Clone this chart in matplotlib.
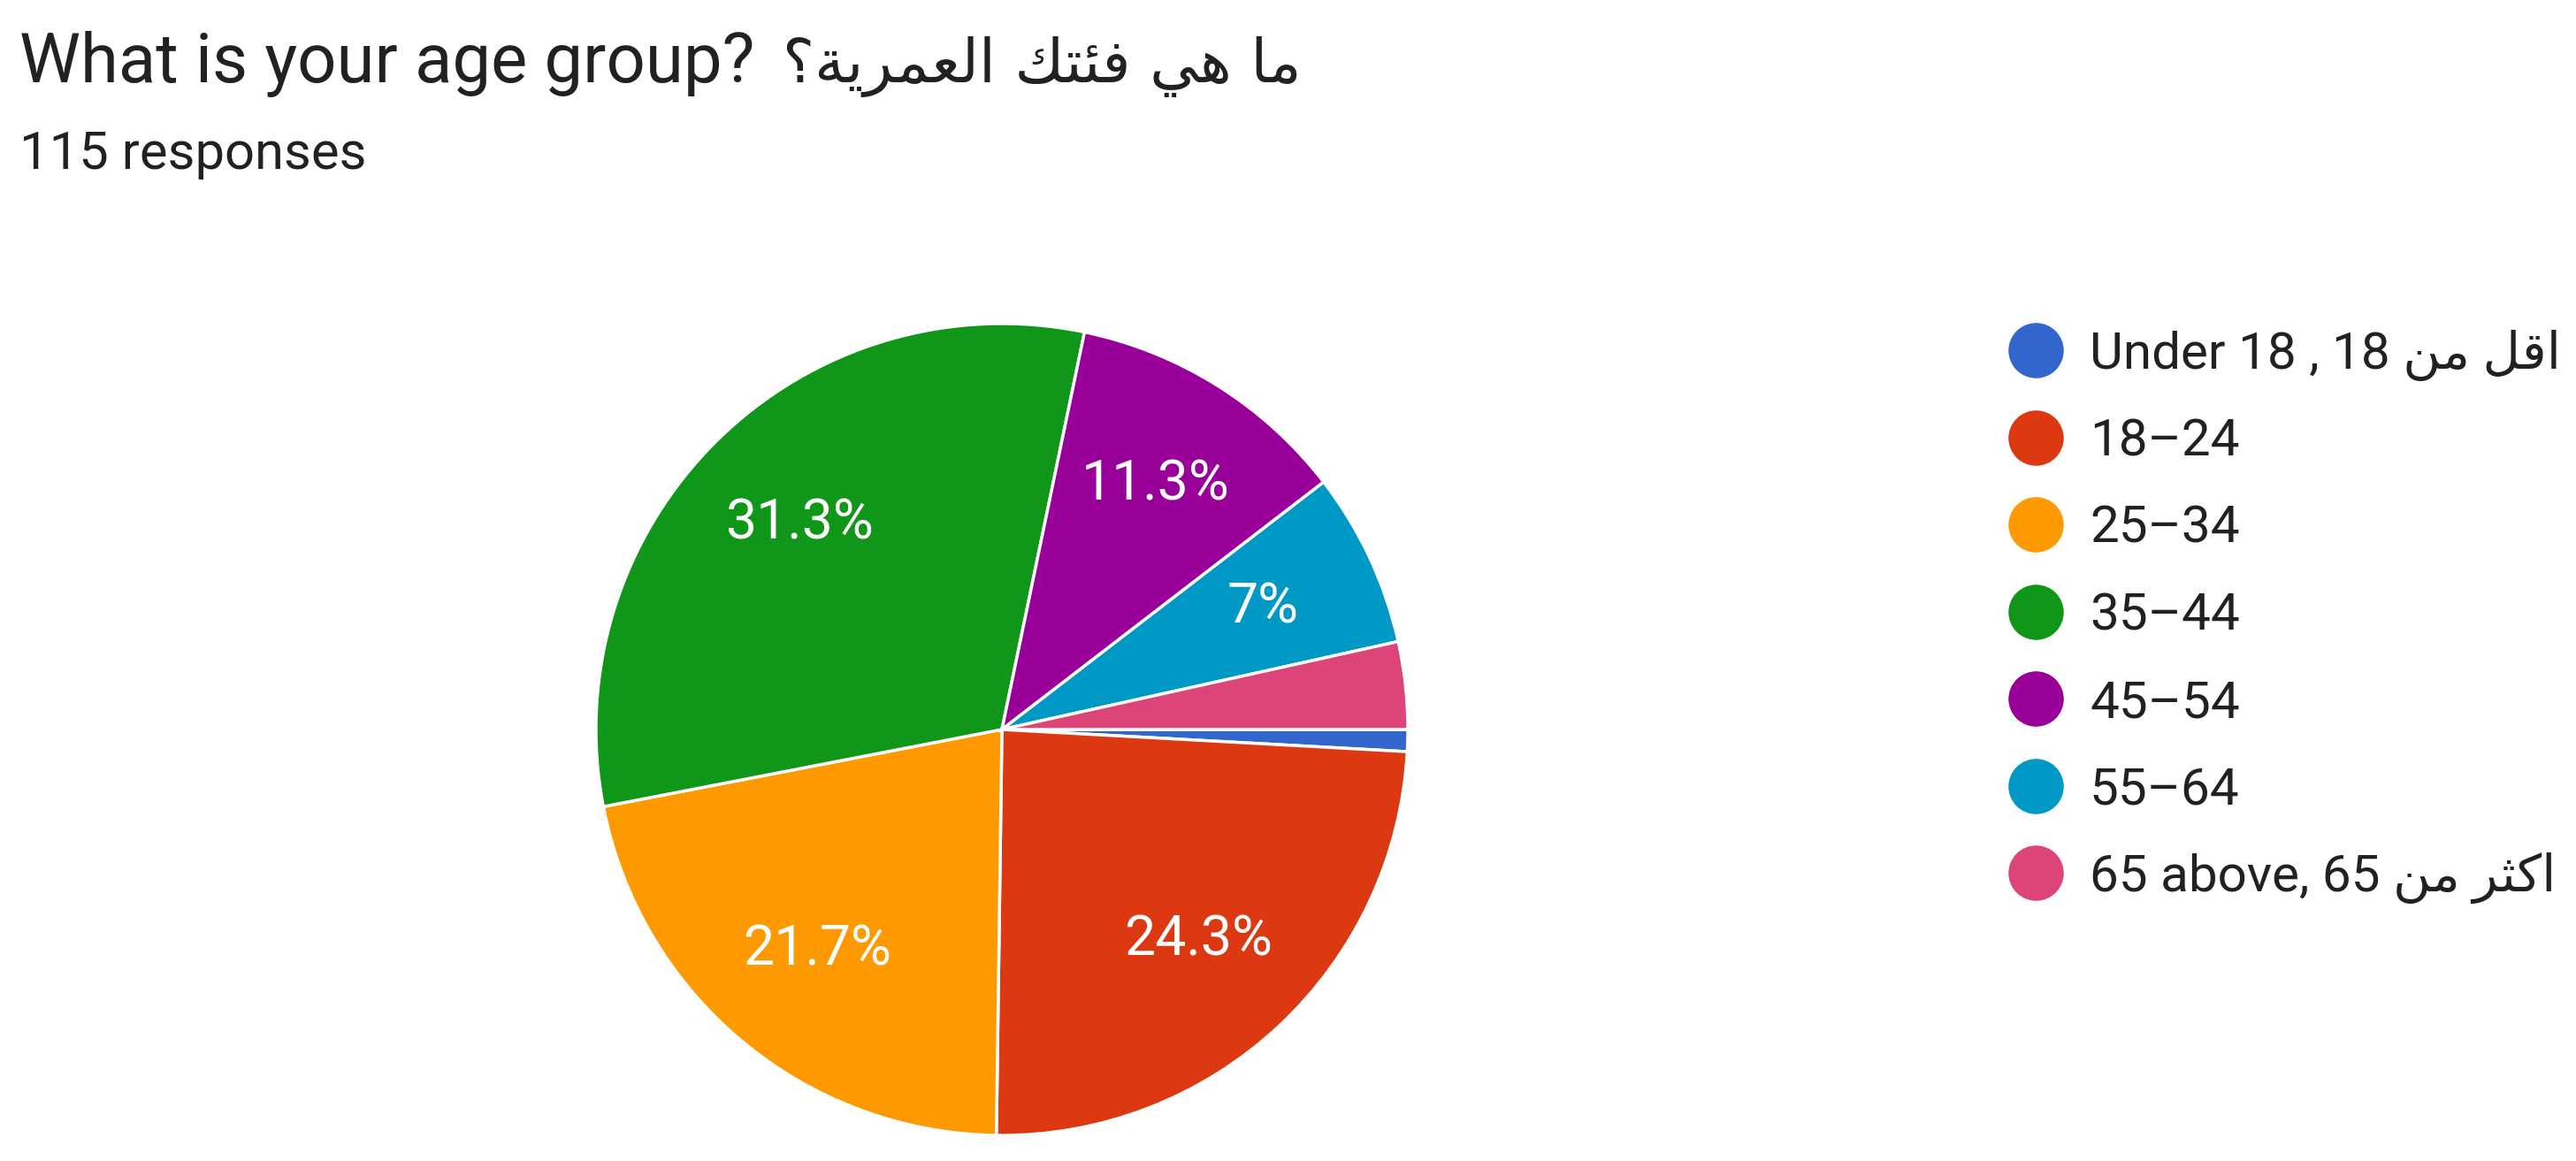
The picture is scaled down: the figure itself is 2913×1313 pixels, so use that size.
import matplotlib.pyplot as plt
from matplotlib.lines import Line2D

plt.rcParams['font.family'] = ['Roboto', 'DejaVu Sans']

# -------------------------------
# data
# -------------------------------
# Arabic parts are written as presentation forms in visual order,
# because matplotlib does not shape / reorder right-to-left text
title_en = "What is your age group?"
title_ar = ("\u061F\uFE94\uFEF3\uFEAE\uFEE4\uFECC\uFEDF\uFE8D "
            "\uFEDA\uFE98\uFE8C\uFED3 \uFEF2\uFEEB \uFE8E\uFEE3")
subtitle = "115 responses"

labels = ["Under 18 , 18 \uFEE6\uFEE3 \uFEDE\uFED7\uFE8D",
          "18\u201324",
          "25\u201334",
          "35\u201344",
          "45\u201354",
          "55\u201364",
          "65 above, 65 \uFEE6\uFEE3 \uFEAE\uFE9C\uFEDB\uFE8D"]
counts = [1, 28, 25, 36, 13, 8, 4]
colors = ["#3366cc", "#dc3912", "#ff9900", "#109618",
          "#990099", "#0099c6", "#dd4477"]


def pct_label(pct):
    if pct < 5:
        return ""
    return f"{pct:.1f}".rstrip("0").rstrip(".") + "%"


# -------------------------------
# figure
# -------------------------------
W, H = 2913, 1313
fig = plt.figure(figsize=(W / 100, H / 100), dpi=100)

ax = fig.add_axes([651 / W, 6 / H, 964 / W, 964 / H])
wedges, texts, autotexts = ax.pie(
    counts, colors=colors, startangle=0, counterclock=False,
    autopct=pct_label, pctdistance=0.71,
    wedgeprops=dict(edgecolor="white", linewidth=2.5),
    textprops=dict(color="white", fontsize=45))
ax.set_xlim(-1.05, 1.05)
ax.set_ylim(-1.05, 1.05)
ax.set_aspect("equal")
ax.axis("off")

# title and subtitle
fig.text(22 / W, 1 - 93 / H, title_en, fontsize=56,
         color="#212121", va="baseline", ha="left")
fig.text(885 / W, 1 - 93 / H, title_ar, fontsize=49,
         color="#212121", va="baseline", ha="left", family="DejaVu Sans")
fig.text(22 / W, 1 - 191 / H, subtitle, fontsize=43,
         color="#212121", va="baseline", ha="left")

# legend (circle + label per category)
y0 = 396
dy = 98.5
for i, (lab, col) in enumerate(zip(labels, colors)):
    y = 1 - (y0 + i * dy) / H
    fig.add_artist(Line2D([2302 / W], [y], marker="o", markersize=44,
                          color=col, transform=fig.transFigure))
    fig.text(2363 / W, y - 21 / H, lab, fontsize=42, color="#212121",
             va="baseline", ha="left")

fig.savefig("out.png", dpi=100, facecolor="white")
